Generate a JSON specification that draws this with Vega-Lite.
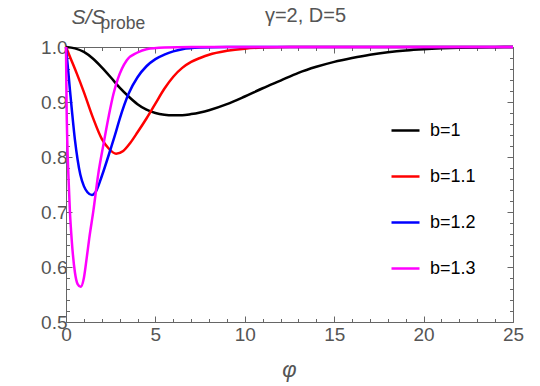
{
  "$schema": "https://vega.github.io/schema/vega-lite/v6.json",
  "width": 447,
  "height": 275,
  "autosize": {"type": "none"},
  "padding": {"left": 66, "top": 47, "right": 27, "bottom": 64},
  "title": {"text": "γ=2, D=5", "font": "Liberation Sans", "fontSize": 20, "fontWeight": "normal", "color": "#555555", "anchor": "middle", "dx": 16, "offset": -36, "baseline": "alphabetic"},
  "config": {
    "view": {"stroke": null},
    "axis": {"grid": false, "domainColor": "#666666", "tickColor": "#666666", "labelColor": "#555555", "labelFont": "Liberation Sans", "labelFontSize": 19, "titleFont": "Liberation Sans", "titleFontWeight": "normal", "titleColor": "#555555", "labelFlush": false, "labelOverlap": false, "domainWidth": 1, "tickWidth": 1}
  },
  "data": {"values": [
    {"b": "b=1", "phi": 0, "S": 1.0},
    {"b": "b=1", "phi": 0.5, "S": 0.9975},
    {"b": "b=1", "phi": 1.0, "S": 0.991},
    {"b": "b=1", "phi": 1.5, "S": 0.979},
    {"b": "b=1", "phi": 2.0, "S": 0.963},
    {"b": "b=1", "phi": 2.5, "S": 0.945},
    {"b": "b=1", "phi": 3.0, "S": 0.926},
    {"b": "b=1", "phi": 3.5, "S": 0.910},
    {"b": "b=1", "phi": 4.0, "S": 0.896},
    {"b": "b=1", "phi": 4.5, "S": 0.886},
    {"b": "b=1", "phi": 5.0, "S": 0.880},
    {"b": "b=1", "phi": 5.5, "S": 0.877},
    {"b": "b=1", "phi": 6.0, "S": 0.876},
    {"b": "b=1", "phi": 6.5, "S": 0.876},
    {"b": "b=1", "phi": 7.0, "S": 0.878},
    {"b": "b=1", "phi": 7.5, "S": 0.881},
    {"b": "b=1", "phi": 8.0, "S": 0.885},
    {"b": "b=1", "phi": 9.0, "S": 0.896},
    {"b": "b=1", "phi": 10.0, "S": 0.910},
    {"b": "b=1", "phi": 11.0, "S": 0.925},
    {"b": "b=1", "phi": 12.0, "S": 0.939},
    {"b": "b=1", "phi": 13.0, "S": 0.953},
    {"b": "b=1", "phi": 14.0, "S": 0.964},
    {"b": "b=1", "phi": 15.0, "S": 0.973},
    {"b": "b=1", "phi": 16.0, "S": 0.980},
    {"b": "b=1", "phi": 17.0, "S": 0.986},
    {"b": "b=1", "phi": 18.0, "S": 0.9905},
    {"b": "b=1", "phi": 19.0, "S": 0.9938},
    {"b": "b=1", "phi": 20.0, "S": 0.996},
    {"b": "b=1", "phi": 21.0, "S": 0.9975},
    {"b": "b=1", "phi": 22.0, "S": 0.9985},
    {"b": "b=1", "phi": 23.0, "S": 0.9992},
    {"b": "b=1", "phi": 24.0, "S": 0.9996},
    {"b": "b=1", "phi": 25.0, "S": 1.0},
    {"b": "b=1.1", "phi": 0, "S": 1.0},
    {"b": "b=1.1", "phi": 0.3, "S": 0.976},
    {"b": "b=1.1", "phi": 0.6, "S": 0.952},
    {"b": "b=1.1", "phi": 1.0, "S": 0.918},
    {"b": "b=1.1", "phi": 1.5, "S": 0.872},
    {"b": "b=1.1", "phi": 2.0, "S": 0.833},
    {"b": "b=1.1", "phi": 2.4, "S": 0.815},
    {"b": "b=1.1", "phi": 2.8, "S": 0.806},
    {"b": "b=1.1", "phi": 3.2, "S": 0.811},
    {"b": "b=1.1", "phi": 3.6, "S": 0.826},
    {"b": "b=1.1", "phi": 4.0, "S": 0.845},
    {"b": "b=1.1", "phi": 4.5, "S": 0.870},
    {"b": "b=1.1", "phi": 5.0, "S": 0.897},
    {"b": "b=1.1", "phi": 5.5, "S": 0.924},
    {"b": "b=1.1", "phi": 6.0, "S": 0.946},
    {"b": "b=1.1", "phi": 6.5, "S": 0.962},
    {"b": "b=1.1", "phi": 7.0, "S": 0.973},
    {"b": "b=1.1", "phi": 7.5, "S": 0.980},
    {"b": "b=1.1", "phi": 8.0, "S": 0.986},
    {"b": "b=1.1", "phi": 9.0, "S": 0.993},
    {"b": "b=1.1", "phi": 10.0, "S": 0.997},
    {"b": "b=1.1", "phi": 11.0, "S": 0.999},
    {"b": "b=1.1", "phi": 12.5, "S": 1.0},
    {"b": "b=1.1", "phi": 25.0, "S": 1.0},
    {"b": "b=1.2", "phi": 0, "S": 1.0},
    {"b": "b=1.2", "phi": 0.1, "S": 0.965},
    {"b": "b=1.2", "phi": 0.22, "S": 0.922},
    {"b": "b=1.2", "phi": 0.35, "S": 0.878},
    {"b": "b=1.2", "phi": 0.5, "S": 0.831},
    {"b": "b=1.2", "phi": 0.65, "S": 0.795},
    {"b": "b=1.2", "phi": 0.8, "S": 0.768},
    {"b": "b=1.2", "phi": 1.0, "S": 0.747},
    {"b": "b=1.2", "phi": 1.2, "S": 0.736},
    {"b": "b=1.2", "phi": 1.45, "S": 0.731},
    {"b": "b=1.2", "phi": 1.7, "S": 0.739},
    {"b": "b=1.2", "phi": 2.0, "S": 0.765},
    {"b": "b=1.2", "phi": 2.5, "S": 0.815},
    {"b": "b=1.2", "phi": 2.75, "S": 0.841},
    {"b": "b=1.2", "phi": 3.0, "S": 0.869},
    {"b": "b=1.2", "phi": 3.5, "S": 0.915},
    {"b": "b=1.2", "phi": 4.0, "S": 0.945},
    {"b": "b=1.2", "phi": 4.5, "S": 0.965},
    {"b": "b=1.2", "phi": 5.0, "S": 0.978},
    {"b": "b=1.2", "phi": 5.5, "S": 0.986},
    {"b": "b=1.2", "phi": 6.0, "S": 0.992},
    {"b": "b=1.2", "phi": 6.5, "S": 0.996},
    {"b": "b=1.2", "phi": 7.5, "S": 0.999},
    {"b": "b=1.2", "phi": 9.0, "S": 1.0},
    {"b": "b=1.2", "phi": 25.0, "S": 1.0},
    {"b": "b=1.3", "phi": 0, "S": 1.0},
    {"b": "b=1.3", "phi": 0.03, "S": 0.90},
    {"b": "b=1.3", "phi": 0.07, "S": 0.83},
    {"b": "b=1.3", "phi": 0.13, "S": 0.77},
    {"b": "b=1.3", "phi": 0.22, "S": 0.70},
    {"b": "b=1.3", "phi": 0.32, "S": 0.649},
    {"b": "b=1.3", "phi": 0.5, "S": 0.590},
    {"b": "b=1.3", "phi": 0.65, "S": 0.569},
    {"b": "b=1.3", "phi": 0.82, "S": 0.564},
    {"b": "b=1.3", "phi": 1.0, "S": 0.580},
    {"b": "b=1.3", "phi": 1.16, "S": 0.617},
    {"b": "b=1.3", "phi": 1.3, "S": 0.652},
    {"b": "b=1.3", "phi": 1.53, "S": 0.702},
    {"b": "b=1.3", "phi": 1.8, "S": 0.768},
    {"b": "b=1.3", "phi": 2.09, "S": 0.822},
    {"b": "b=1.3", "phi": 2.4, "S": 0.876},
    {"b": "b=1.3", "phi": 2.65, "S": 0.914},
    {"b": "b=1.3", "phi": 2.9, "S": 0.942},
    {"b": "b=1.3", "phi": 3.4, "S": 0.976},
    {"b": "b=1.3", "phi": 4.0, "S": 0.990},
    {"b": "b=1.3", "phi": 4.5, "S": 0.996},
    {"b": "b=1.3", "phi": 5.5, "S": 0.999},
    {"b": "b=1.3", "phi": 7.0, "S": 1.0},
    {"b": "b=1.3", "phi": 25.0, "S": 1.0}
  ]},
  "layer": [
    {
      "mark": {"type": "line", "strokeWidth": 2.5, "interpolate": "monotone"},
      "encoding": {
        "x": {"field": "phi", "type": "quantitative",
          "scale": {"domain": [0, 25], "nice": false, "zero": false},
          "axis": {"orient": "bottom", "values": [0,1,2,3,4,5,6,7,8,9,10,11,12,13,14,15,16,17,18,19,20,21,22,23,24,25],
            "format": "d",
            "labelExpr": "datum.value % 5 === 0 ? datum.label : ''",
            "tickSize": {"condition": {"test": "datum.value % 5 === 0", "value": -6}, "value": -3.5},
            "labelPadding": 9,
            "title": "φ", "titleFontSize": 22, "titleFontStyle": "italic",
            "titleX": 223, "titleY": 54, "titleAlign": "center", "titleBaseline": "alphabetic"}},
        "y": {"field": "S", "type": "quantitative",
          "scale": {"domain": [0.5, 1.0], "nice": false, "zero": false},
          "axis": {"orient": "left", "values": [0.5,0.52,0.54,0.56,0.58,0.6,0.62,0.64,0.66,0.68,0.7,0.72,0.74,0.76,0.78,0.8,0.82,0.84,0.86,0.88,0.9,0.92,0.94,0.96,0.98,1.0],
            "format": ".1f",
            "labelExpr": "abs(datum.value*10 - round(datum.value*10)) < 0.000001 ? datum.label : ''",
            "tickSize": {"condition": {"test": "abs(datum.value*10 - round(datum.value*10)) < 0.000001", "value": -6}, "value": -3.5},
            "labelPadding": 5,
            "title": "S/S", "titleFontSize": 21, "titleFontStyle": "italic", "titleAngle": 0,
            "titleX": 5, "titleY": -24, "titleAlign": "left", "titleBaseline": "alphabetic"}},
        "color": {"field": "b", "type": "nominal",
          "scale": {"domain": ["b=1", "b=1.1", "b=1.2", "b=1.3"], "range": ["#000000", "#ff0000", "#0000ff", "#ff00ff"]},
          "legend": {"title": null, "orient": "none", "legendX": 324, "legendY": 68, "padding": 0,
            "symbolType": "stroke", "symbolSize": 784, "symbolStrokeWidth": 2.5,
            "labelFont": "Liberation Sans", "labelFontSize": 18, "labelColor": "#000000", "labelOffset": 9, "rowPadding": 21}}
      }
    },
    {
      "mark": {"type": "line", "opacity": 0},
      "encoding": {
        "x": {"field": "phi", "type": "quantitative",
          "axis": {"orient": "top", "values": [0,1,2,3,4,5,6,7,8,9,10,11,12,13,14,15,16,17,18,19,20,21,22,23,24,25],
            "labels": false, "title": null,
            "tickSize": {"condition": {"test": "datum.value % 5 === 0", "value": -6}, "value": -3.5}}},
        "y": {"field": "S", "type": "quantitative",
          "axis": {"orient": "right", "values": [0.5,0.52,0.54,0.56,0.58,0.6,0.62,0.64,0.66,0.68,0.7,0.72,0.74,0.76,0.78,0.8,0.82,0.84,0.86,0.88,0.9,0.92,0.94,0.96,0.98,1.0],
            "labels": false,
            "tickSize": {"condition": {"test": "abs(datum.value*10 - round(datum.value*10)) < 0.000001", "value": -6}, "value": -3.5},
            "title": "probe", "titleFontSize": 17.5, "titleFontStyle": "normal", "titleAngle": 0,
            "titleX": -413, "titleY": -19, "titleAlign": "left", "titleBaseline": "alphabetic"}}
      }
    }
  ],
  "resolve": {"axis": {"x": "independent", "y": "independent"}}
}
